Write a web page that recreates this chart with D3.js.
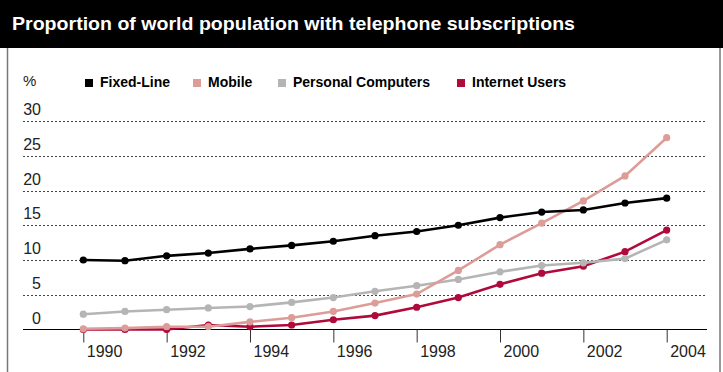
<!DOCTYPE html>
<html>
<head>
<meta charset="utf-8">
<script src="https://cdn.jsdelivr.net/npm/d3@7"></script>
<style>
  body { margin: 0; background: #fff; }
  svg { display: block; font-family: "Liberation Sans", Arial, sans-serif; }
</style>
</head>
<body>
<svg id="chart" width="723" height="372"></svg>
<script>
// yearly values, percent of world population
var years = [1990, 1991, 1992, 1993, 1994, 1995, 1996, 1997, 1998, 1999, 2000, 2001, 2002, 2003, 2004];
var fixedLine = [10.0, 9.9, 10.6, 11.0, 11.6, 12.1, 12.7, 13.5, 14.1, 15.0, 16.1, 16.9, 17.2, 18.2, 18.9];
var mobile = [0.1, 0.2, 0.4, 0.4, 1.1, 1.7, 2.6, 3.8, 5.1, 8.5, 12.2, 15.3, 18.5, 22.1, 27.6];
var computers = [2.2, 2.6, 2.85, 3.1, 3.3, 3.9, 4.6, 5.5, 6.3, 7.2, 8.3, 9.2, 9.6, 10.2, 12.9];
var internet = [0.0, 0.0, 0.0, 0.65, 0.4, 0.65, 1.4, 2.0, 3.2, 4.6, 6.5, 8.1, 9.1, 11.2, 14.3];

var seriesNames = ['Fixed-Line', 'Mobile', 'Personal Computers', 'Internet Users'];
var seriesColors = ['#000000', '#dc9c98', '#b5b5b5', '#b00a3c'];
var yTicks = [0, 5, 10, 15, 20, 25, 30];
var xTicks = [1990, 1992, 1994, 1996, 1998, 2000, 2002, 2004];

var svg = d3.select('#chart');

var x = d3.scaleLinear().domain([1990, 2004]).range([83.3, 666.7]);
var y = d3.scaleLinear().domain([0, 30]).range([329.5, 121]);

// title bar
svg.append('rect').attr('x', 0).attr('y', 0).attr('width', 723).attr('height', 48).attr('fill', '#000');
svg.append('text')
    .attr('x', 12).attr('y', 30)
    .attr('fill', '#fff')
    .style('font-size', '19px')
    .style('font-weight', 'bold')
    .attr('textLength', 563)
    .attr('lengthAdjust', 'spacingAndGlyphs')
    .text('Proportion of world population with telephone subscriptions');

// frame sides
svg.append('line').attr('x1', 7.5).attr('x2', 7.5).attr('y1', 48).attr('y2', 372)
    .attr('stroke', '#777').attr('stroke-width', 1.5);
svg.append('line').attr('x1', 720).attr('x2', 720).attr('y1', 48).attr('y2', 372)
    .attr('stroke', '#777').attr('stroke-width', 1.5);

// gridlines + y labels
var grid = svg.append('g');
grid.selectAll('line')
    .data(yTicks.filter((d) => d > 0))
    .enter().append('line')
    .attr('x1', 23).attr('x2', 707)
    .attr('y1', (d) => Math.round(y(d)) + 0.5)
    .attr('y2', (d) => Math.round(y(d)) + 0.5)
    .attr('stroke', '#444')
    .attr('stroke-dasharray', '2,2');

grid.selectAll('text')
    .data(yTicks)
    .enter().append('text')
    .attr('x', 41)
    .attr('y', (d) => y(d) - 6)
    .attr('text-anchor', 'end')
    .attr('fill', '#222')
    .style('font-size', '16px')
    .text((d) => d);

svg.append('text')
    .attr('x', 23).attr('y', 86)
    .attr('fill', '#222')
    .style('font-size', '15px')
    .text('%');

// x axis
var xAxis = svg.append('g')
    .attr('transform', 'translate(0,' + y(0) + ')')
    .call(d3.axisBottom(x).tickValues(xTicks).tickFormat(d3.format('d')).tickSize(13).tickSizeOuter(0));
xAxis.select('.domain').remove();
xAxis.append('line')
    .attr('x1', 23).attr('x2', 707)
    .attr('stroke', '#000').attr('stroke-width', 1.2);
xAxis.selectAll('.tick line').attr('stroke', '#333');
xAxis.selectAll('.tick text')
    .attr('x', 3).attr('y', 16)
    .attr('text-anchor', 'start')
    .attr('fill', '#222')
    .style('font-size', '16px')
    .style('font-family', '"Liberation Sans", Arial, sans-serif');

// series, drawn back to front
var seriesData = [fixedLine, mobile, computers, internet];
var drawOrder = [3, 2, 1, 0];
var line = d3.line()
    .x((d, i) => x(years[i]))
    .y((d) => y(d));

drawOrder.forEach(function(k) {
    var g = svg.append('g');
    g.append('path')
        .datum(seriesData[k])
        .attr('d', line)
        .attr('fill', 'none')
        .attr('stroke', seriesColors[k])
        .attr('stroke-width', 2.6);
    g.selectAll('circle')
        .data(seriesData[k])
        .enter().append('circle')
        .attr('cx', (d, i) => x(years[i]))
        .attr('cy', (d) => y(d))
        .attr('r', 3.6)
        .attr('fill', seriesColors[k]);
});

// legend
var legendX = [85, 193, 278, 457];
var legend = svg.append('g');
seriesNames.forEach(function(name, i) {
    legend.append('rect')
        .attr('x', legendX[i]).attr('y', 79)
        .attr('width', 8).attr('height', 8)
        .attr('fill', seriesColors[i]);
    legend.append('text')
        .attr('x', legendX[i] + 15).attr('y', 87)
        .attr('fill', '#000')
        .style('font-size', '14px')
        .style('font-weight', 'bold')
        .text(name);
});
</script>
</body>
</html>
